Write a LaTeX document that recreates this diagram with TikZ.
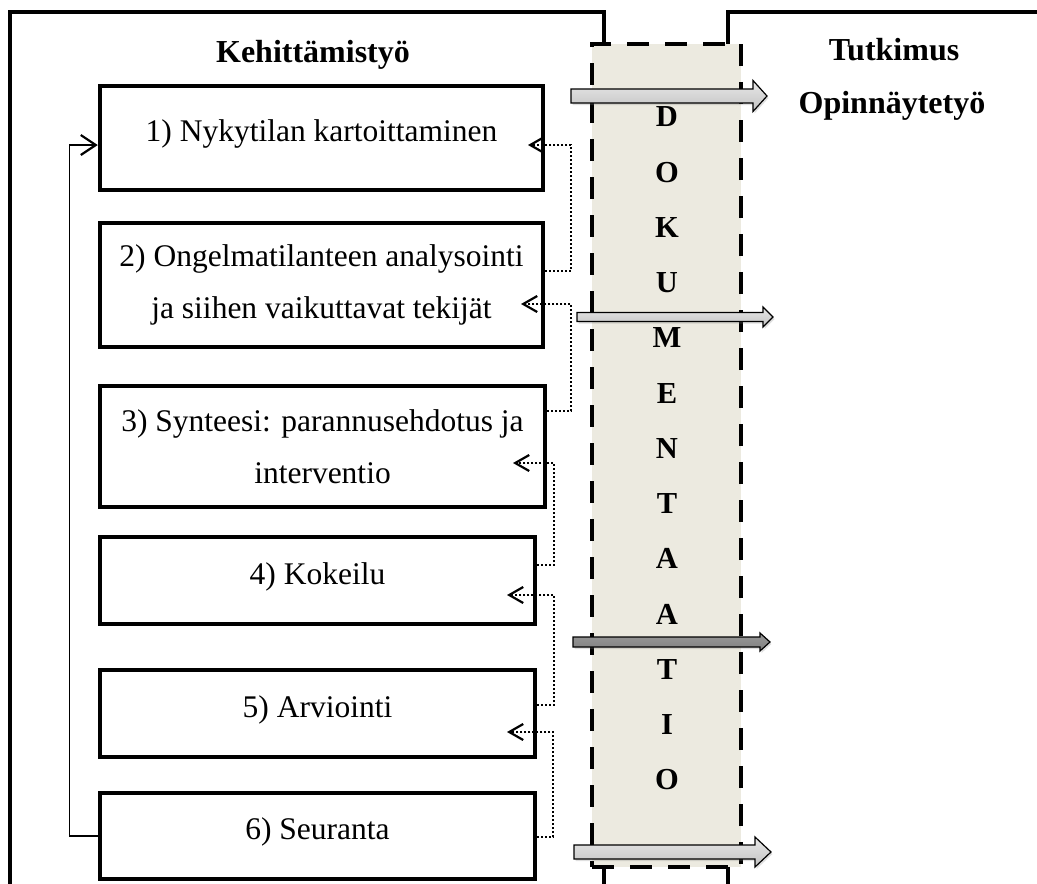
\documentclass[tikz,border=0pt]{standalone}
\usepackage{fontspec}
\setmainfont{Liberation Serif}
\usetikzlibrary{arrows.meta,shadows}
\definecolor{dokfill}{HTML}{ECEAE0}

\begin{document}
\begin{tikzpicture}[x=1pt,y=-1pt,
  outerline/.style={line width=4.5pt},
  phase/.style={draw,line width=4.5pt,inner sep=0pt,align=center,font=\fontsize{31.5}{52}\selectfont},
  oneline/.style={text height=21pt,text depth=14pt},
  headtext/.style={anchor=base,inner sep=0pt,font=\fontsize{32}{38}\selectfont\bfseries},
  dokbox/.style={draw,fill=dokfill,line width=4.5pt,dash pattern=on 22pt off 16pt,minimum width=149pt,minimum height=823pt},
  dokletters/.style={inner sep=0pt,align=center,font=\fontsize{30.5}{55.25}\selectfont\bfseries},
  dotarrow/.style={line width=1.8pt,dash pattern=on 2pt off 2pt,-{Straight Barb[length=14pt,width=16pt,line width=2.2pt]}},
  looparrow/.style={line width=1.3pt,-{Straight Barb[length=15pt,width=20pt,line width=2.2pt]}},
  bigarrow/.style={draw,line width=1.2pt,top color=gray!18,bottom color=gray!48,drop shadow={opacity=0.25,shadow xshift=1.5pt,shadow yshift=-2pt}}]
\useasboundingbox (0,0) rectangle (1037,884);

% outer frames
\draw[outerline] (10,884) -- (10,12) -- (604,12) -- (604,884);
\draw[outerline] (728,884) -- (728,12) -- (1037,12);

% documentation column
\node[dokbox] (dok) at (666.5,455.5) {};
\node[dokletters] (doktext) at (667,448.5) {D\\O\\K\\U\\M\\E\\N\\T\\A\\A\\T\\I\\O};

\node[headtext] (kehitys) at (313,62) {Kehittämistyö};
\node[headtext] (tutkimus) at (894,60) {Tutkimus};
\node[headtext] (opinnayte) at (892,113) {Opinnäytetyö};

% phases
\node[phase,oneline,minimum width=443pt,minimum height=104pt] (1) at (321.5,138) {1) Nykytilan kartoittaminen};
\node[phase,minimum width=443pt,minimum height=124pt] (2) at (321.5,285) {2) Ongelmatilanteen analysointi\\ja siihen vaikuttavat tekijät};
\node[phase,minimum width=445pt,minimum height=121pt] (3) at (322.5,446.5) {3) Synteesi: parannusehdotus ja\\interventio};
\node[phase,oneline,minimum width=435pt,minimum height=87pt] (4) at (317.5,580.5) {4) Kokeilu};
\node[phase,oneline,minimum width=435pt,minimum height=87pt] (5) at (317.5,713.5) {5) Arviointi};
\node[phase,oneline,minimum width=435pt,minimum height=86pt] (6) at (317.5,836) {6) Seuranta};

% feedback tips
\coordinate (t1) at (528,145);
\coordinate (t2) at (521,304);
\coordinate (t3) at (513,463);
\coordinate (t4) at (507,595);
\coordinate (t5) at (507,732);

\draw[dotarrow] ([yshift=14pt]2.east) -- ++(26,0) |- (t1);
\draw[dotarrow] ([yshift=35.5pt]3.east) -- ++(24,0) |- (t2);
\draw[dotarrow] ([yshift=15.5pt]4.east) -- ++(17,0) |- (t3);
\draw[dotarrow] ([yshift=8.5pt]5.east) -- ++(17,0) |- (t4);
\draw[dotarrow] ([yshift=-1pt]6.east) -- ++(16,0) |- (t5);

\draw[looparrow] (6.west) -- ++(-28,0) |- ([yshift=-7pt]1.west);

% arrows to the research side
\draw[bigarrow] (571,89) -- (753,89) -- (753,80.5) -- (767,96) -- (753,111.5) -- (753,103) -- (571,103) -- cycle;
\draw[bigarrow] (577,312.5) -- (763,312.5) -- (763,307) -- (773,317) -- (763,327) -- (763,321.5) -- (577,321.5) -- cycle;
\draw[bigarrow,top color=gray!80,bottom color=gray!100] (573,637) -- (760,637) -- (760,633) -- (770,642) -- (760,651) -- (760,647) -- (573,647) -- cycle;
\draw[bigarrow] (574,845) -- (755,845) -- (755,837) -- (771,852) -- (755,867) -- (755,859) -- (574,859) -- cycle;
\end{tikzpicture}
\end{document}
